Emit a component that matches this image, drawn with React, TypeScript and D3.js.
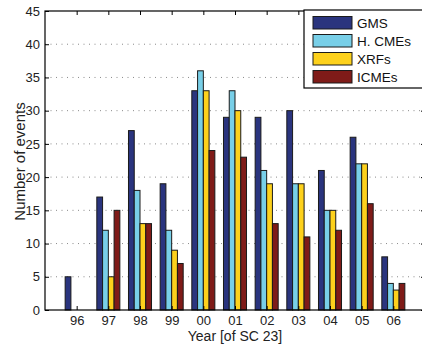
import { useEffect, useRef } from 'react';
import * as d3 from 'd3';

const years = ['96', '97', '98', '99', '00', '01', '02', '03', '04', '05', '06'];
const seriesNames = ['GMS', 'H. CMEs', 'XRFs', 'ICMEs'];
const gms = [5, 17, 27, 19, 33, 29, 29, 30, 21, 26, 8];
const hCmes = [0, 12, 18, 12, 36, 33, 21, 19, 15, 22, 4];
const xrfs = [0, 5, 13, 9, 33, 30, 19, 19, 15, 22, 3];
const icmes = [0, 15, 13, 7, 24, 23, 13, 11, 12, 16, 4];
const yTicks = [0, 5, 10, 15, 20, 25, 30, 35, 40, 45];

const COLORS = ['#2a347e', '#78cfe8', '#fdd11c', '#7f1b18'];
const FONT = '"Liberation Sans", Arial, Helvetica, sans-serif';

const App = () => {
  const svgRef = useRef(null);

  useEffect(() => {
    const W = 422;
    const H = 344;
    const margin = { left: 45, top: 11, right: 425, bottom: 310 };

    const svg = d3.select(svgRef.current);
    svg.selectAll('*').remove();

    const values = [gms, hCmes, xrfs, icmes];

    // MATLAB style grouped bars: xlim [0,12], group width ~0.727
    const groupFrac = 4 / 5.5;
    const x = d3.scaleBand()
      .domain(years)
      .range([margin.left, margin.right])
      .paddingInner(1 - groupFrac)
      .paddingOuter((1 + (1 - groupFrac)) / 2);

    const xInner = d3.scaleBand()
      .domain(seriesNames)
      .range([0, x.bandwidth()]);

    const y = d3.scaleLinear()
      .domain([0, 45])
      .range([margin.bottom, margin.top]);

    const plotW = margin.right - margin.left;

    // grid lines
    svg.append('g')
      .selectAll('line')
      .data(yTicks.slice(1, -1))
      .enter()
      .append('line')
      .attr('x1', margin.left)
      .attr('x2', margin.right)
      .attr('y1', d => y(d))
      .attr('y2', d => y(d))
      .attr('stroke', '#8a8a8a')
      .attr('stroke-width', 1)
      .attr('stroke-dasharray', '1,4.5');

    // bars
    values.forEach((vals, si) => {
      svg.append('g')
        .selectAll('rect')
        .data(vals)
        .enter()
        .append('rect')
        .attr('x', (d, i) => x(years[i]) + xInner(seriesNames[si]))
        .attr('y', d => y(d))
        .attr('width', xInner.bandwidth())
        .attr('height', d => y(0) - y(d))
        .attr('fill', COLORS[si])
        .attr('stroke', '#1a1a1a')
        .attr('stroke-width', 1);
    });

    // frame
    svg.append('rect')
      .attr('x', margin.left)
      .attr('y', margin.top)
      .attr('width', plotW)
      .attr('height', margin.bottom - margin.top)
      .attr('fill', 'none')
      .attr('stroke', '#000')
      .attr('stroke-width', 1.2);

    const tickCenter = d => x(d) + x.bandwidth() / 2;

    // axes (inward ticks)
    const left = svg.append('g')
      .attr('transform', `translate(${margin.left},0)`)
      .call(d3.axisLeft(y).tickValues(yTicks).tickSizeInner(-4).tickSizeOuter(0).tickPadding(5));
    left.select('.domain').remove();
    left.selectAll('line').attr('stroke', '#000');
    left.selectAll('text')
      .attr('font-family', FONT)
      .attr('font-size', 13)
      .attr('fill', '#222');

    svg.append('g')
      .attr('transform', `translate(${margin.right},0)`)
      .call(d3.axisRight(y).tickValues(yTicks).tickSizeInner(-4).tickSizeOuter(0).tickFormat(() => ''))
      .call(g => g.select('.domain').remove());

    const xAxisScale = d3.scalePoint().domain(years).range([tickCenter(years[0]), tickCenter(years[years.length - 1])]);

    const bottom = svg.append('g')
      .attr('transform', `translate(0,${margin.bottom})`)
      .call(d3.axisBottom(xAxisScale).tickSizeInner(-4).tickSizeOuter(0).tickPadding(6));
    bottom.select('.domain').remove();
    bottom.selectAll('line').attr('stroke', '#000');
    bottom.selectAll('text')
      .attr('font-family', FONT)
      .attr('font-size', 13)
      .attr('fill', '#222');

    svg.append('g')
      .attr('transform', `translate(0,${margin.top})`)
      .call(d3.axisTop(xAxisScale).tickSizeInner(-4).tickSizeOuter(0).tickFormat(() => ''))
      .call(g => g.select('.domain').remove());

    // axis labels
    svg.append('text')
      .attr('transform', `translate(25,${(margin.top + margin.bottom) / 2 + 1}) rotate(-90)`)
      .attr('text-anchor', 'middle')
      .attr('font-family', FONT)
      .attr('font-size', 15)
      .attr('fill', '#222')
      .text('Number of events');

    svg.append('text')
      .attr('x', (margin.left + margin.right) / 2)
      .attr('y', 340.5)
      .attr('text-anchor', 'middle')
      .attr('font-family', FONT)
      .attr('font-size', 14)
      .attr('fill', '#222')
      .text('Year [of SC 23]');

    // legend
    const legend = svg.append('g').attr('transform', 'translate(304,10)');
    legend.append('rect')
      .attr('x', 0)
      .attr('y', 0)
      .attr('width', 140)
      .attr('height', 78)
      .attr('fill', '#fff')
      .attr('stroke', '#000')
      .attr('stroke-width', 1.2);

    seriesNames.forEach((name, i) => {
      const row = legend.append('g').attr('transform', `translate(0,${6.5 + i * 18})`);
      row.append('rect')
        .attr('x', 9)
        .attr('y', 0)
        .attr('width', 39)
        .attr('height', 12.5)
        .attr('fill', COLORS[i])
        .attr('stroke', '#1a1a1a')
        .attr('stroke-width', 1);
      row.append('text')
        .attr('x', 53)
        .attr('y', 11)
        .attr('font-family', FONT)
        .attr('font-size', 13.5)
        .attr('fill', '#111')
        .text(name);
    });

    svg.attr('width', W).attr('height', H);
  }, []);

  return (
    <svg
      ref={svgRef}
      width={422}
      height={344}
      style={{ position: 'absolute', left: 0, top: 0, background: '#fff' }}
    />
  );
};

export default App;
